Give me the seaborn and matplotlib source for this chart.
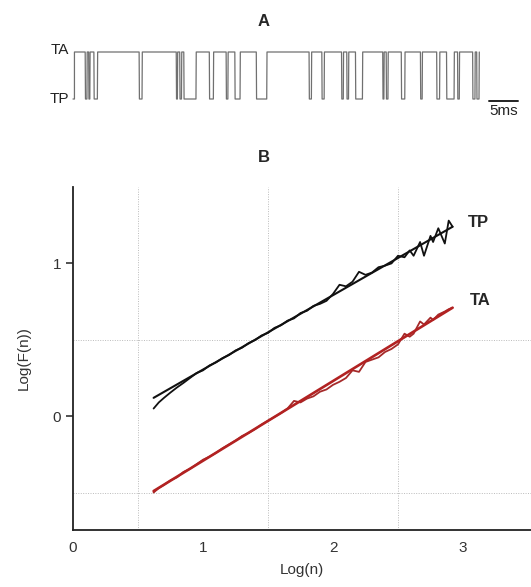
import numpy as np
import matplotlib
matplotlib.use("Agg")
import matplotlib.pyplot as plt
import pandas as pd
import seaborn as sns

# ---- panel A: single channel trace, closures to TP (start ms, end ms) ----
trace_end = 70.0
closures = [(0.0, 0.25), (2.1, 2.4), (2.7, 2.9), (3.6, 4.2), (11.4, 11.9),
            (17.8, 18.0), (18.4, 18.7), (19.1, 21.2), (23.5, 24.2),
            (26.4, 26.7), (27.9, 28.8), (31.6, 33.4), (40.7, 41.1),
            (42.9, 43.3), (46.3, 46.6), (47.2, 47.5), (48.7, 49.9),
            (53.4, 53.6), (54.0, 54.3), (56.6, 57.2), (59.9, 60.2),
            (62.7, 63.2), (64.4, 65.7), (66.3, 66.6), (68.9, 69.3),
            (69.6, 70.0)]

# ---- panel B: DFA log-log curves ----
log_n = [0.62, 0.66, 0.70, 0.75, 0.80, 0.85, 0.90, 0.95, 1.00, 1.05,
         1.10, 1.15, 1.20, 1.25, 1.30, 1.35, 1.40, 1.45, 1.50, 1.55,
         1.60, 1.65, 1.70, 1.75, 1.80, 1.85, 1.90, 1.95, 2.00, 2.05,
         2.10, 2.15, 2.20, 2.25, 2.30, 2.35, 2.40, 2.45, 2.50, 2.55,
         2.59, 2.62, 2.67, 2.70, 2.75, 2.77, 2.81, 2.86, 2.89, 2.92]
tp_logF = [0.050, 0.090, 0.120, 0.155, 0.188, 0.218, 0.250, 0.282, 0.300, 0.332,
           0.352, 0.380, 0.400, 0.430, 0.448, 0.478, 0.498, 0.528, 0.545, 0.578,
           0.595, 0.625, 0.640, 0.675, 0.690, 0.722, 0.735, 0.755, 0.800, 0.860,
           0.850, 0.880, 0.945, 0.925, 0.940, 0.975, 0.985, 1.000, 1.050, 1.040,
           1.085, 1.050, 1.140, 1.050, 1.180, 1.140, 1.230, 1.130, 1.280, 1.240]
ta_logF = [-0.500, -0.470, -0.450, -0.420, -0.400, -0.365, -0.345, -0.315, -0.285, -0.265,
           -0.240, -0.210, -0.185, -0.160, -0.130, -0.110, -0.085, -0.055, -0.030, -0.005,
           0.020, 0.050, 0.100, 0.090, 0.115, 0.130, 0.160, 0.175, 0.205, 0.225,
           0.250, 0.300, 0.290, 0.355, 0.370, 0.385, 0.420, 0.440, 0.470, 0.540,
           0.520, 0.540, 0.620, 0.600, 0.645, 0.630, 0.665, 0.685, 0.700, 0.710]
# straight fit lines (end points)
fit_x = [0.62, 2.92]
tp_fit = [0.12, 1.24]
ta_fit = [-0.49, 0.71]

sns.set_style("white")
plt.rcParams['font.family'] = ['Liberation Sans', 'DejaVu Sans']

W, H = 531, 587
fig = plt.figure(figsize=(W / 100, H / 100), dpi=100)

# panel A
axA = fig.add_axes([0, 1 - 130 / H, 1, 130 / H])
t = [0.0]
lv = [0.0]
for s, e in closures:
    if s == 0.0:
        t += [e, e]
        lv += [0.0, 1.0]
    else:
        t += [s, s + 0.05, e, e + 0.05]
        lv += [1.0, 0.0, 0.0, 1.0]
axA.plot(t, lv, color="#707070", lw=0.9)
axA.set_xlim(-73 / 5.8, (W - 73) / 5.8)
axA.set_ylim(-31 / 47, 1 + 52 / 47)
axA.axis("off")
axA.plot([71.7, 76.7], [-0.04, -0.04], color="#222222", lw=1.4)
axA.text(74.2, -0.25, "5ms", ha="center", va="center", fontsize=11, color="#222222")
fig.text(69 / W, 1 - 50 / H, "TA", ha="right", va="center", fontsize=11, color="#222222")
fig.text(69 / W, 1 - 99 / H, "TP", ha="right", va="center", fontsize=11, color="#222222")
fig.text(264 / W, 1 - 22 / H, "A", ha="center", va="center", fontsize=12, weight="bold")
fig.text(264 / W, 1 - 157 / H, "B", ha="center", va="center", fontsize=12, weight="bold")

# panel B
axB = fig.add_axes([73 / W, 1 - 530 / H, 1 - 73 / W, (530 - 187) / H])
tp_df = pd.DataFrame({"x": log_n, "y": tp_logF})
ta_df = pd.DataFrame({"x": log_n, "y": ta_logF})
for v in [0.5, 1.5, 2.5]:
    axB.axvline(v, color="#bbbbbb", lw=0.7, ls=(0, (1, 1.5)), zorder=0)
for v in [-0.5, 0.5]:
    axB.axhline(v, color="#bbbbbb", lw=0.7, ls=(0, (1, 1.5)), zorder=0)
sns.lineplot(data=tp_df, x="x", y="y", ax=axB, color="#111111", lw=1.3, sort=False, estimator=None)
sns.lineplot(x=fit_x, y=tp_fit, ax=axB, color="#111111", lw=1.5)
sns.lineplot(data=ta_df, x="x", y="y", ax=axB, color="#a52a2a", lw=1.3, sort=False, estimator=None)
sns.lineplot(x=fit_x, y=ta_fit, ax=axB, color="#b22222", lw=1.9)
axB.text(3.04, 1.27, "TP", fontsize=12, weight="bold", va="center")
axB.text(3.05, 0.76, "TA", fontsize=12, weight="bold", va="center")

axB.set_xlim(0, (W - 73) / 130)
axB.set_ylim(-0.745, 1.5)
axB.set_xticks([0, 1, 2, 3])
axB.set_yticks([0, 1])
axB.tick_params(axis="x", length=0, pad=8, labelsize=11, colors="#333333")
axB.tick_params(axis="y", length=5, width=1.2, labelsize=11, colors="#333333", left=True)
for side in ["top", "right"]:
    axB.spines[side].set_visible(False)
for side in ["left", "bottom"]:
    axB.spines[side].set_color("#222222")
    axB.spines[side].set_linewidth(1.3)
axB.set_xlabel("Log(n)", fontsize=11, color="#333333", labelpad=6)
axB.set_ylabel("Log(F(n))", fontsize=11, color="#333333", labelpad=16)

fig.savefig("out.png", dpi=100)
